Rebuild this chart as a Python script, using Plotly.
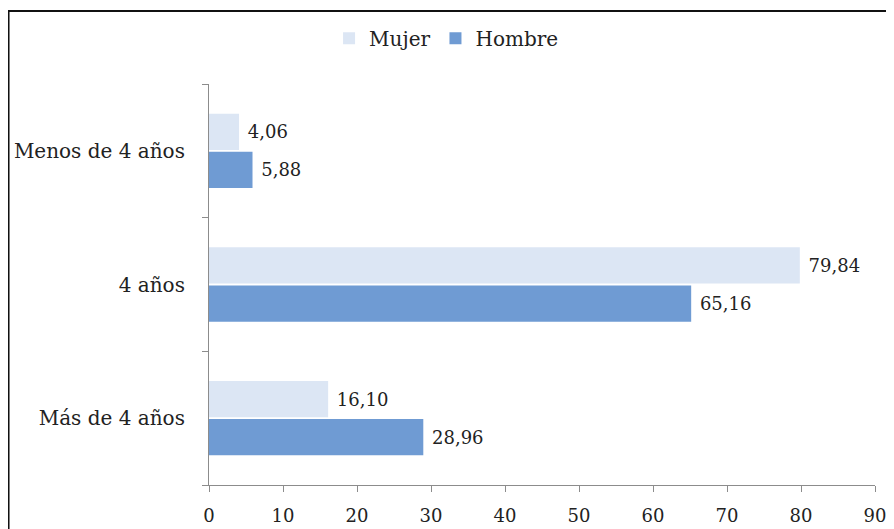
import plotly.graph_objects as go

categories = ["Menos de 4 años", "4 años", "Más de 4 años"]
mujer = [4.06, 79.84, 16.10]
hombre = [5.88, 65.16, 28.96]
x_ticks = list(range(0, 91, 10))

FONT = "DejaVu Serif, Liberation Serif, serif"
COLORS = {"Mujer": "#dce6f4", "Hombre": "#6f9bd3"}


def fmt(v):
    return " " + f"{v:.2f}".replace(".", ",")


fig = go.Figure()
# plotly stacks grouped horizontal bars bottom-up, so Hombre goes first
for name, values in (("Hombre", hombre), ("Mujer", mujer)):
    fig.add_trace(
        go.Bar(
            name=name,
            y=categories,
            x=values,
            orientation="h",
            marker={"color": COLORS[name], "line": {"width": 0}},
            text=[fmt(v) for v in values],
            textposition="outside",
            textfont={"size": 18, "color": "#222222", "family": FONT},
            cliponaxis=False,
        )
    )

# the page body keeps an 8px margin, so the figure is sized to fit inside it
fig.update_layout(
    width=886,
    height=521,
    template="plotly_white",
    plot_bgcolor="white",
    paper_bgcolor="white",
    font={"family": FONT, "size": 20, "color": "#222222"},
    barmode="group",
    bargap=0.43,
    bargroupgap=0.05,
    margin={"l": 201, "r": 19, "t": 76, "b": 44, "autoexpand": False},
    showlegend=True,
    legend={
        "orientation": "h",
        "x": 0.495,
        "xanchor": "center",
        "xref": "container",
        "y": 0.942,
        "yanchor": "middle",
        "yref": "container",
        "traceorder": "reversed",
        "bgcolor": "rgba(0,0,0,0)",
        "font": {"size": 20},
        "itemwidth": 30,
    },
    xaxis={
        "range": [0, 90],
        "tickvals": x_ticks,
        "showgrid": False,
        "zeroline": False,
        "showline": True,
        "automargin": False,
        "linecolor": "#8c8c8c",
        "linewidth": 1,
        "ticks": "outside",
        "ticklen": 6,
        "tickcolor": "#8c8c8c",
        "ticklabelstandoff": 8,
        "tickfont": {"size": 18},
    },
    yaxis={
        "categoryorder": "array",
        "categoryarray": categories[::-1],
        "showgrid": False,
        "zeroline": False,
        "showline": True,
        "automargin": False,
        "linecolor": "#8c8c8c",
        "linewidth": 1,
        "ticks": "outside",
        "tickson": "boundaries",
        "ticklen": 6,
        "tickcolor": "#8c8c8c",
        "ticksuffix": "   ",
        "tickfont": {"size": 20},
    },
    shapes=[
        {
            "type": "rect",
            "xref": "paper",
            "yref": "paper",
            "x0": -0.301,
            "x1": 1.2,
            "y0": -0.3,
            "y1": 1.182,
            "line": {"color": "#111111", "width": 2},
            "fillcolor": "rgba(0,0,0,0)",
        }
    ],
)

fig.write_html("out.html")
